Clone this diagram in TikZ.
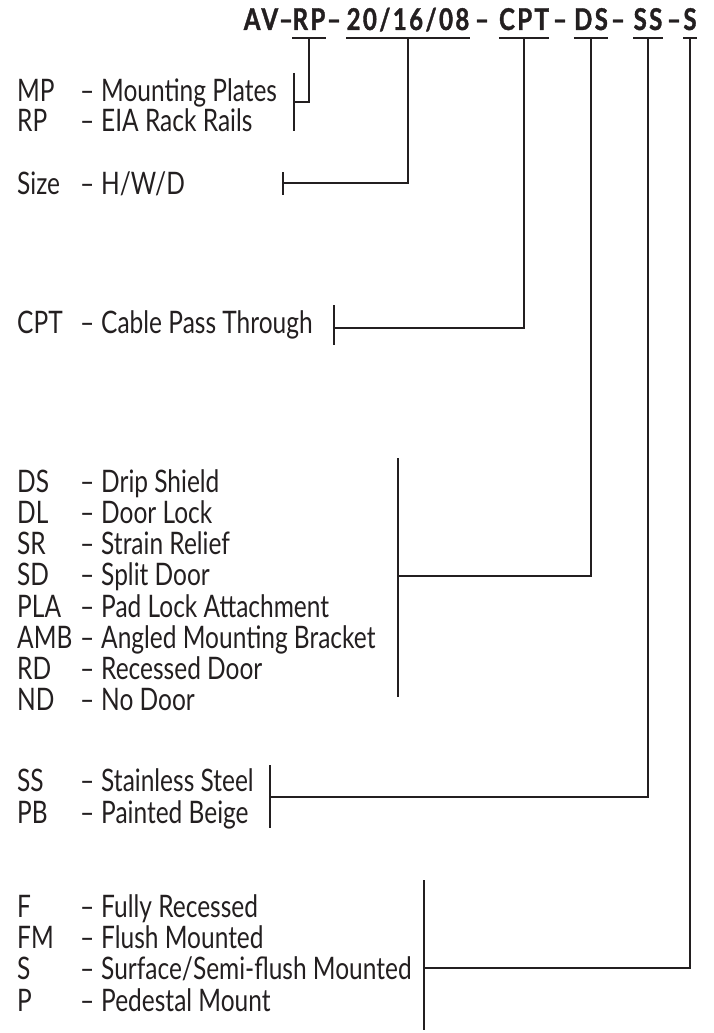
\documentclass[tikz,border=0pt]{standalone}
\usepackage{fontspec}
\setmainfont[FakeStretch=0.79]{Lato}
\newfontfamily\codefont[FakeStretch=0.80,LetterSpace=8,BoldFeatures={FakeBold=1.2}]{Lato}
\definecolor{ink}{HTML}{231F20}

\begin{document}
\begin{tikzpicture}[
				x=1pt, y=-1pt,
				color=ink,
				code/.style={font=\codefont\bfseries\fontsize{30}{32}\selectfont, inner sep=0pt, anchor=base},
				key/.style={font=\fontsize{31}{33}\selectfont, inner sep=0pt, text height=22pt, text depth=0pt, anchor=west},
				link/.style={line width=1.1pt}
				]
				
				\useasboundingbox (0,0) rectangle (714,1033);
				
				% Part number
				\node[code] (c-av) at (261,30) {AV};
				\node[code] at (286,30) {–};
				\node[code] (c-rp) at (309,30) {RP};
				\node[code] at (334,30) {–};
				\node[code] (c-size) at (408,30) {20/16/08};
				\node[code] at (482,30) {–};
				\node[code] (c-cpt) at (524,30) {CPT};
				\node[code] at (560,30) {–};
				\node[code] (c-ds) at (591,30) {DS};
				\node[code] at (618,30) {–};
				\node[code] (c-ss) at (648,30) {SS};
				\node[code] at (674,30) {–};
				\node[code] (c-s) at (690,30) {S};
				
				% Underlines
				\foreach \n in {rp,size,cpt,ds,ss,s}
					\draw[link] ([yshift=-8pt]c-\n.base west) -- ([yshift=-8pt]c-\n.base east);
				
				% Option lists
				\foreach \y/\k/\d in {90/MP/Mounting Plates, 120/RP/EIA Rack Rails,
						183/Size/{H/W/D}, 322/CPT/Cable Pass Through,
						481/DS/Drip Shield, 512/DL/Door Lock, 543/SR/Strain Relief,
						574/SD/Split Door, 606/PLA/Pad Lock Attachment,
						637/AMB/Angled Mounting Bracket, 668/RD/Recessed Door, 699/ND/No Door,
						780/SS/Stainless Steel, 812/PB/Painted Beige,
						906/F/Fully Recessed, 937/FM/Flush Mounted,
						968/S/{Surface/Semi-flush Mounted}, 1000/P/Pedestal Mount} {
					\node[key] (k-\k) at (17,\y) {\k};
					\node[key] at (80,\y) {–};
					\node[key] (d-\k) at (101,\y) {\d};
				}
				
				% Brackets
				\coordinate (b-rp) at (294,102);
				\coordinate (b-size) at (283,183);
				\coordinate (b-cpt) at (334,328);
				\coordinate (b-ds) at (398,576);
				\coordinate (b-ss) at (270,797);
				\coordinate (b-s) at (424,968);
				\draw[link] (294,73) -- (294,131);
				\draw[link] (283,172) -- (283,195);
				\draw[link] (334,305) -- (334,345);
				\draw[link] (398,458) -- (398,697);
				\draw[link] (270,765) -- (270,828);
				\draw[link] (424,880) -- (424,1030);
				
				% Leaders
				\foreach \n in {rp,size,cpt,ds,ss,s}
					\draw[link] ([yshift=-8pt]c-\n.base) |- (b-\n);
				
			\end{tikzpicture}
\end{document}
